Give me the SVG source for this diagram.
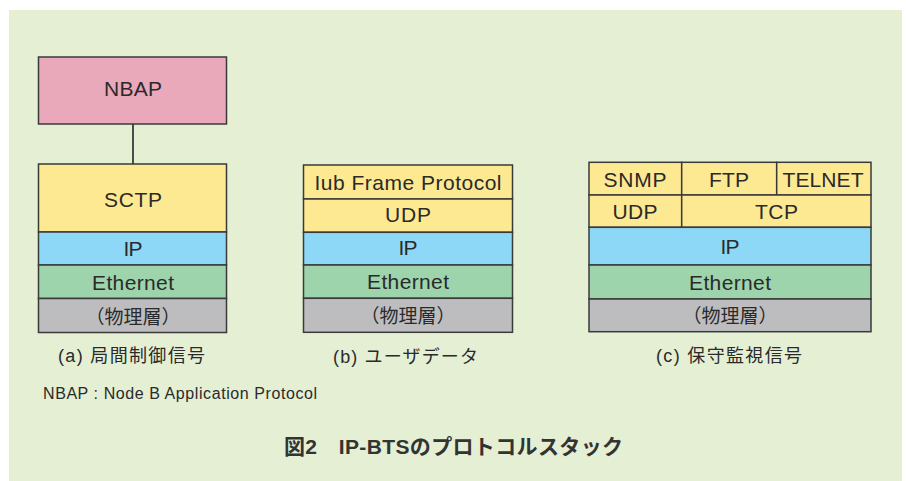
<svg xmlns="http://www.w3.org/2000/svg" width="906" height="481" viewBox="0 0 906 481">
<style>
.bg{fill:#ffffff}
.panel{fill:#e4efd4}
.box{stroke:#3a3a3a;stroke-width:1.5}
.pink{fill:#eaa8bb}
.yel{fill:#fde991}
.blue{fill:#8ed8f7}
.grn{fill:#9dd4ab}
.gry{fill:#bdbdbf}
.lbl{font-family:"Liberation Sans",Arial,"Noto Sans CJK JP",sans-serif;font-size:21px;fill:#2a2a2a;text-anchor:middle}
.jp{font-family:"Noto Sans CJK JP",sans-serif;font-size:19px;fill:#2a2a2a;text-anchor:middle}
.cap{font-family:"Liberation Sans",Arial,"Noto Sans CJK JP",sans-serif;font-size:18px;fill:#2a2a2a}
.note{font-family:"Liberation Sans",Arial,sans-serif;font-size:16px;fill:#2a2a2a}
.title{font-family:"Liberation Sans",Arial,"Noto Sans CJK JP",sans-serif;font-size:21px;font-weight:bold;fill:#333}
.conn{stroke:#3a3a3a;stroke-width:1.8;fill:none}
</style>
<rect class="bg" x="0" y="0" width="906" height="481"/>
<rect class="panel" x="9" y="10" width="893" height="471"/>

<g id="connectors">
<line class="conn" x1="133" y1="124" x2="133" y2="164"/>
</g>

<!-- Stack (a) -->
<g id="a-nbap">
<rect class="box pink" x="38.5" y="57" width="188" height="67"/>
<text class="lbl" x="133" y="96" textLength="58">NBAP</text>
</g>
<g id="a-sctp">
<rect class="box yel" x="38.5" y="164" width="188" height="68"/>
<text class="lbl" x="133" y="206.5" textLength="58">SCTP</text>
</g>
<g id="a-ip">
<rect class="box blue" x="38.5" y="232" width="188" height="33"/>
<text class="lbl" x="133" y="255.5" textLength="19">IP</text>
</g>
<g id="a-eth">
<rect class="box grn" x="38.5" y="265" width="188" height="33.5"/>
<text class="lbl" x="133" y="290" textLength="82">Ethernet</text>
</g>
<g id="a-phy">
<rect class="box gry" x="38.5" y="298.5" width="188" height="34"/>
<text class="jp" x="133" y="323.5">（物理層）</text>
</g>

<!-- Stack (b) -->
<g id="b-iub">
<rect class="box yel" x="303.5" y="165" width="209" height="34"/>
<text class="lbl" x="408" y="190" textLength="187">Iub Frame Protocol</text>
</g>
<g id="b-udp">
<rect class="box yel" x="303.5" y="199" width="209" height="33.3"/>
<text class="lbl" x="408" y="222.3" textLength="46">UDP</text>
</g>
<g id="b-ip">
<rect class="box blue" x="303.5" y="232.3" width="209" height="32.7"/>
<text class="lbl" x="408" y="255" textLength="19">IP</text>
</g>
<g id="b-eth">
<rect class="box grn" x="303.5" y="265" width="209" height="33.3"/>
<text class="lbl" x="408" y="289.3" textLength="82">Ethernet</text>
</g>
<g id="b-phy">
<rect class="box gry" x="303.5" y="298.3" width="209" height="34"/>
<text class="jp" x="408" y="323">（物理層）</text>
</g>

<!-- Stack (c) -->
<g id="c-snmp">
<rect class="box yel" x="589" y="162.3" width="92.7" height="32.7"/>
<text class="lbl" x="635" y="186.7" textLength="63">SNMP</text>
</g>
<g id="c-ftp">
<rect class="box yel" x="681.7" y="162.3" width="95" height="32.7"/>
<text class="lbl" x="729" y="186.7" textLength="40">FTP</text>
</g>
<g id="c-telnet">
<rect class="box yel" x="776.7" y="162.3" width="94.3" height="32.7"/>
<text class="lbl" x="823" y="186.7" textLength="81">TELNET</text>
</g>
<g id="c-udp">
<rect class="box yel" x="589" y="195" width="92.7" height="32.3"/>
<text class="lbl" x="635" y="219" textLength="45">UDP</text>
</g>
<g id="c-tcp">
<rect class="box yel" x="681.7" y="195" width="189.3" height="32.3"/>
<text class="lbl" x="776.5" y="219" textLength="43">TCP</text>
</g>
<g id="c-ip">
<rect class="box blue" x="589" y="227.3" width="282" height="37.7"/>
<text class="lbl" x="730" y="254.3" textLength="19">IP</text>
</g>
<g id="c-eth">
<rect class="box grn" x="589" y="265" width="282" height="34"/>
<text class="lbl" x="730" y="290" textLength="82">Ethernet</text>
</g>
<g id="c-phy">
<rect class="box gry" x="589" y="299" width="282" height="32.7"/>
<text class="jp" x="730" y="323">（物理層）</text>
</g>

<!-- Captions -->
<text class="cap" x="58" y="362" textLength="147">(a) 局間制御信号</text>
<text class="cap" x="333" y="363" textLength="145">(b) ユーザデータ</text>
<text class="cap" x="656" y="362" textLength="146">(c) 保守監視信号</text>
<text class="note" x="43" y="399" textLength="274">NBAP : Node B Application Protocol</text>
<text class="title" x="284" y="454" textLength="339">図2　IP-BTSのプロトコルスタック</text>
</svg>
